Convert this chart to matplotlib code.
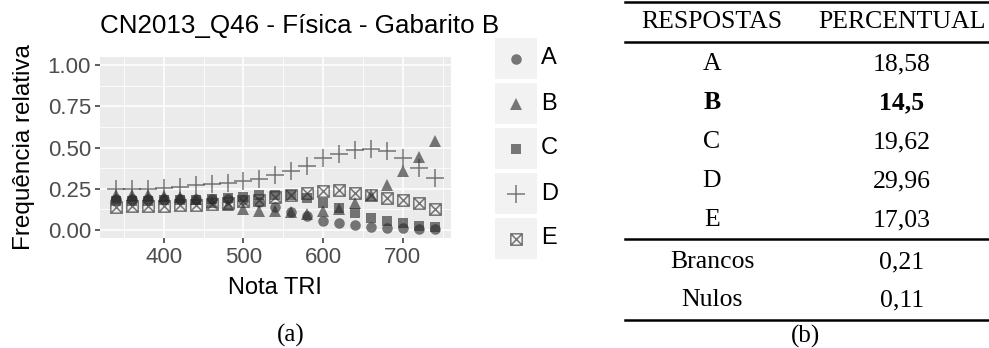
import matplotlib
matplotlib.use("Agg")
import matplotlib.pyplot as plt
from matplotlib.path import Path
from matplotlib.lines import Line2D

# nota TRI (x) e frequencia relativa de cada alternativa
nota = [340, 360, 380, 400, 420, 440, 460, 480, 500, 520, 540,
        560, 580, 600, 620, 640, 660, 680, 700, 720, 740]
freq_a = [0.19, 0.19, 0.19, 0.19, 0.19, 0.19, 0.19, 0.19, 0.185, 0.17, 0.14,
          0.11, 0.085, 0.056, 0.042, 0.03, 0.018, 0.014, 0.01, 0.008, 0.006]
freq_b = [0.21, 0.21, 0.21, 0.205, 0.2, 0.19, 0.17, 0.15, 0.13, 0.115, 0.115,
          0.11, 0.095, 0.115, 0.13, 0.165, 0.215, 0.275, 0.355, 0.44, 0.54]
freq_c = [0.175, 0.175, 0.175, 0.18, 0.18, 0.185, 0.19, 0.195, 0.2, 0.21, 0.21,
          0.21, 0.195, 0.165, 0.135, 0.105, 0.07, 0.052, 0.04, 0.026, 0.018]
freq_d = [0.247, 0.25, 0.25, 0.255, 0.26, 0.27, 0.28, 0.287, 0.297, 0.31, 0.333,
          0.357, 0.39, 0.438, 0.458, 0.484, 0.492, 0.478, 0.438, 0.378, 0.317]
freq_e = [0.14, 0.145, 0.145, 0.145, 0.15, 0.15, 0.155, 0.165, 0.175, 0.185, 0.2,
          0.21, 0.225, 0.235, 0.24, 0.227, 0.215, 0.197, 0.183, 0.165, 0.127]

alternativas = ["A", "B", "C", "D", "E"]
series = [freq_a, freq_b, freq_c, freq_d, freq_e]

# tabela (b)
resp_rotulos = ["A", "B", "C", "D", "E"]
resp_valores = ["18,58", "14,5", "19,62", "29,96", "17,03"]
outros_rotulos = ["Brancos", "Nulos"]
outros_valores = ["0,21", "0,11"]
gabarito = "B"

# marcador do R shape 7 (quadrado com X)
box_x = Path([(-1, -1), (1, -1), (1, 1), (-1, 1), (-1, -1), (1, 1), (-1, 1), (1, -1)],
             [Path.MOVETO, Path.LINETO, Path.LINETO, Path.LINETO, Path.LINETO,
              Path.LINETO, Path.MOVETO, Path.LINETO])

estilos = [
    dict(marker="o", ms=7.6, mew=0),
    dict(marker="^", ms=9.0, mew=0),
    dict(marker="s", ms=7.0, mew=0),
    dict(marker="+", ms=12.5, mew=1.1),
    dict(marker=box_x, ms=8.2, mew=1.1, fillstyle="none"),
]
cor = "#2a2a2a"
alpha = 0.62

W, H = 989, 348
fig = plt.figure(figsize=(W / 100, H / 100), dpi=100)


def rect(x0, y0, x1, y1):
    return [x0 / W, 1 - y1 / H, (x1 - x0) / W, (y1 - y0) / H]


sans = "Liberation Sans"
serif = "Liberation Serif"

ax = fig.add_axes(rect(100, 56.7, 450.7, 238.3))
ax.set_facecolor("#EBEBEB")
for s in ax.spines.values():
    s.set_visible(False)

for nome, ys, st in zip(alternativas, series, estilos):
    ax.plot(nota, ys, linestyle="none", color=cor, alpha=alpha, **st)

ax.set_xlim(320, 760)
ax.set_ylim(-0.05, 1.05)
ax.set_xticks([400, 500, 600, 700])
ax.set_yticks([0, 0.25, 0.5, 0.75, 1.0])
ax.set_yticklabels(["0.00", "0.25", "0.50", "0.75", "1.00"])
ax.set_xticks([350, 450, 550, 650, 750], minor=True)
ax.set_yticks([0.125, 0.375, 0.625, 0.875], minor=True)
ax.grid(which="major", color="white", lw=1.1)
ax.grid(which="minor", color="white", lw=0.55)
ax.set_axisbelow(True)
ax.tick_params(which="major", length=3.5, width=1.1, color="#333333",
               labelsize=16, labelcolor="#4D4D4D", pad=3)
ax.tick_params(which="minor", length=0)
for t in ax.get_xticklabels() + ax.get_yticklabels():
    t.set_family(sans)

ax.set_xlabel("Nota TRI", family=sans, fontsize=17, labelpad=6)
ax.set_ylabel("Frequência relativa", family=sans, fontsize=17.5, labelpad=9)
ax.set_title("CN2013_Q46 - Física - Gabarito B", family=sans, fontsize=18.7,
             loc="left", pad=17)

# legenda no estilo ggplot
for i, (nome, st) in enumerate(zip(alternativas, estilos)):
    yc = 58.5 + 45 * i
    kax = fig.add_axes(rect(495, yc - 20.5, 537, yc + 20.5))
    kax.set_facecolor("#F2F2F2")
    kax.set_xlim(0, 1)
    kax.set_ylim(0, 1)
    kax.set_xticks([])
    kax.set_yticks([])
    for s in kax.spines.values():
        s.set_visible(False)
    kax.plot([0.5], [0.5], linestyle="none", color=cor, alpha=alpha, **st)
    fig.text(541 / W, 1 - yc / H, nome, family=sans, fontsize=17,
             va="center", ha="left")

fig.text(291 / W, 1 - 335 / H, "(a)", family=serif, fontsize=18,
         ha="center", va="center")

# tabela (b)
x_l, x_r = 625, 989
col1, col2 = 712, 902


def hline(y, lw):
    fig.add_artist(Line2D([x_l / W, x_r / W], [1 - y / H, 1 - y / H],
                          color="black", lw=lw))


hline(1.7, 1.8)
hline(41.7, 1.8)
hline(239, 1.8)
hline(320, 1.8)

fs_tab = 18.5
fig.text(col1 / W, 1 - 22 / H, "RESPOSTAS", family=serif, fontsize=fs_tab,
         ha="center", va="center")
fig.text(col2 / W, 1 - 22 / H, "PERCENTUAL", family=serif, fontsize=fs_tab,
         ha="center", va="center")
for i, (r, v) in enumerate(zip(resp_rotulos, resp_valores)):
    y = 64 + 39 * i
    peso = "bold" if r == gabarito else "normal"
    fig.text(col1 / W, 1 - y / H, r, family=serif, fontsize=fs_tab,
             ha="center", va="center", weight=peso)
    fig.text(col2 / W, 1 - y / H, v, family=serif, fontsize=fs_tab,
             ha="center", va="center", weight=peso)
for i, (r, v) in enumerate(zip(outros_rotulos, outros_valores)):
    y = 262 + 38 * i
    fig.text(col1 / W, 1 - y / H, r, family=serif, fontsize=fs_tab,
             ha="center", va="center")
    fig.text(col2 / W, 1 - y / H, v, family=serif, fontsize=fs_tab,
             ha="center", va="center")
fig.text(806 / W, 1 - 336 / H, "(b)", family=serif, fontsize=18,
         ha="center", va="center")

fig.savefig("out.png", dpi=100)
